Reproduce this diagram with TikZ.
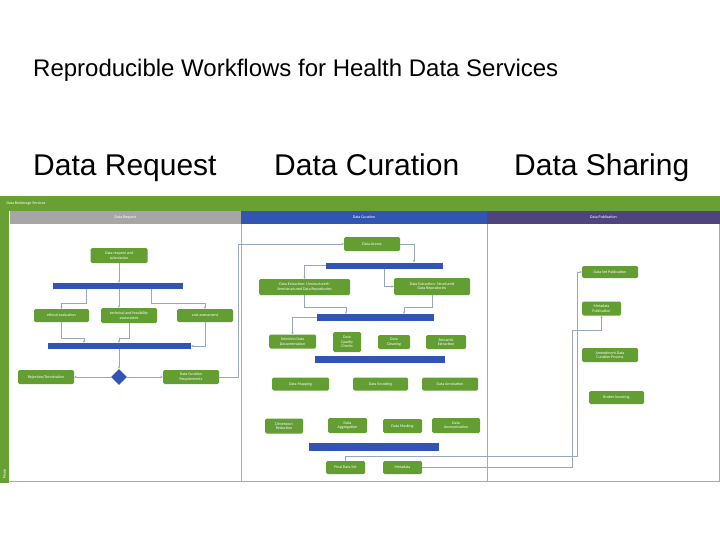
\documentclass[tikz,border=0pt]{standalone}
\usepackage{fontspec}
\setmainfont{Liberation Sans}
\newfontfamily\boxfont{Carlito}
\usetikzlibrary{shapes.geometric,arrows.meta,calc}
\definecolor{bgreen}{RGB}{98,158,50}
\definecolor{tgreen}{RGB}{104,160,52}
\definecolor{hblue}{RGB}{50,84,178}
\definecolor{hgray}{RGB}{166,166,166}
\definecolor{hpurple}{RGB}{80,68,126}
\definecolor{conncol}{RGB}{150,166,192}
\definecolor{framecol}{RGB}{170,170,170}
\tikzset{
  wbox/.style={fill=bgreen, rounded corners=1.5pt, text=white,
    font=\boxfont\fontsize{4}{4.5}\selectfont, align=center, inner sep=0.5pt},
  bar/.style={fill=hblue, inner sep=0pt},
  conn/.style={draw=conncol, line width=0.55pt, -{Stealth[length=2.4pt,width=2.2pt]}},
  lanehead/.style={text=white, font=\boxfont\fontsize{4}{4.5}\selectfont},
  bigtitle/.style={font=\fontsize{24}{28}\selectfont, anchor=base west, inner sep=0pt},
  colhead/.style={font=\fontsize{30}{34}\selectfont, anchor=base west, inner sep=0pt}
}
\begin{document}
\begin{tikzpicture}[x=1pt,y=-1pt]
\useasboundingbox (0,0) rectangle (720,540);
\fill[white] (0,0) rectangle (720,540);

% titles
\node[bigtitle] (title) at (33,77) {Reproducible Workflows for Health Data Services};
\node[colhead] (h1) at (33,176) {Data Request};
\node[colhead] (h2) at (274,176) {Data Curation};
\node[colhead] (h3) at (514,176) {Data Sharing};

% frame
\draw[framecol, line width=0.8pt] (0,196) rectangle (719.5,481.5);
\draw[framecol, line width=0.6pt] (241,224) -- (241,481.5);
\draw[framecol, line width=0.6pt] (487,224) -- (487,481.5);
\fill[tgreen] (0,196) rectangle (720,211);
\fill[tgreen] (0,211) rectangle (9,483);
\fill[hgray] (10,211) rectangle (241,224);
\fill[hblue] (241,211) rectangle (487,224);
\fill[hpurple] (487,211) rectangle (720,224);
\node[lanehead, anchor=west] (svc) at (3,203.5) {Data Brokerage Services};
\node[lanehead] (l1) at (125.5,217.5) {Data Request};
\node[lanehead] (l2) at (364,217.5) {Data Curation};
\node[lanehead] (l3) at (603.5,217.5) {Data Publication};
\node[lanehead, rotate=90] (ph) at (4.5,474) {Phase};

% ---- Data Request lane
\node[wbox, minimum width=57, minimum height=15] (req) at (119,255.5) {Data request and\\submission};
\node[bar, minimum width=130, minimum height=6] (bar1) at (118,286) {};
\node[wbox, minimum width=55, minimum height=13] (eth) at (61.5,315.5) {ethical evaluation};
\node[wbox, minimum width=56, minimum height=15] (tech) at (129,315.5) {technical and feasibility\\assessment};
\node[wbox, minimum width=56, minimum height=13] (cost) at (205,315.5) {cost assessment};
\node[bar, minimum width=143, minimum height=6] (bar2) at (119.5,346) {};
\node[diamond, fill=hblue, minimum width=16, minimum height=16, inner sep=0pt] (dec) at (119,377) {};
\node[wbox, minimum width=56, minimum height=14] (rej) at (46,377) {Rejection/Termination};
\node[wbox, minimum width=56, minimum height=14] (dcr) at (191,377) {Data Curation\\Requirements};

\coordinate (e1) at (86,303);
\coordinate (m1) at (119,0);
\coordinate (e2) at (151,303);
\coordinate (e3) at (84,338);
\coordinate (e4) at (119,338);
\coordinate (e5) at (238,0);

\draw[conn] (req.south) -- (req.south |- bar1.north);
\draw[conn] (bar1.south -| e1) -- (e1) -| (eth.north);
\draw[conn] (bar1.south -| m1) -- (tech.north -| m1);
\draw[conn] (bar1.south -| e2) -- (e2) -| (cost.north);
\draw[conn] (eth.south) |- (e3) -- (e3 |- bar2.north);
\draw[conn] (tech.south) |- (e4) -- (e4 |- bar2.north);
\draw[conn] (cost.south) |- (bar2.east);
\draw[conn] (bar2.south -| dec.north) -- (dec.north);
\draw[conn] (dec.west) -- (rej.east);
\draw[conn] (dec.east) -- (dcr.west);

% ---- Data Curation lane
\node[wbox, minimum width=56, minimum height=14] (acc) at (372,244) {Data Access};
\node[bar, minimum width=117, minimum height=6] (bar3) at (384.5,265.5) {};
\node[wbox, minimum width=91, minimum height=16] (ext1) at (304.5,287) {Data Extraction: Unstructured/\\Semistructured Data Repositories};
\node[wbox, minimum width=76, minimum height=17] (ext2) at (432,286.5) {Data Extraction: Structured\\Data Repositories};
\node[bar, minimum width=117, minimum height=7] (bar4) at (375.5,317.5) {};
\node[wbox, minimum width=47, minimum height=14] (sel) at (292.5,341.5) {Selection Data\\Documentation};
\node[wbox, minimum width=28, minimum height=20] (qual) at (347,342) {Data\\Quality\\Checks};
\node[wbox, minimum width=32, minimum height=14] (clean) at (394,342) {Data\\Cleaning};
\node[wbox, minimum width=40, minimum height=14] (sem) at (446,342) {Semantic\\Extraction};
\node[bar, minimum width=130, minimum height=7] (bar5) at (380,359.5) {};
\node[wbox, minimum width=57, minimum height=13] (map) at (300.5,384) {Data Mapping};
\node[wbox, minimum width=55, minimum height=13] (enc) at (380.5,384) {Data Encoding};
\node[wbox, minimum width=56, minimum height=13] (ann) at (450,384) {Data Annotation};
\node[wbox, minimum width=38, minimum height=15] (dim) at (284,426) {Dimension\\Reduction};
\node[wbox, minimum width=39, minimum height=15] (agg) at (347.5,425.5) {Data\\Aggregation};
\node[wbox, minimum width=39, minimum height=14] (mask) at (402.5,426) {Data Masking};
\node[wbox, minimum width=48, minimum height=15] (anon) at (456,425.5) {Data\\Anonymization};
\node[bar, minimum width=130, minimum height=8] (bar6) at (374,447) {};
\node[wbox, minimum width=39, minimum height=13] (fin) at (345.5,467.5) {Final Data Set};
\node[wbox, minimum width=39, minimum height=13] (meta) at (402.5,467.5) {Metadata};

% ---- Data Publication lane
\node[wbox, minimum width=56, minimum height=12] (dsp) at (610,272) {Data Set Publication};
\node[wbox, minimum width=39, minimum height=14] (mp) at (601.5,308.5) {Metadata\\Publication};
\node[wbox, minimum width=56, minimum height=14] (amd) at (610,355) {Amendment Data\\Curation Process};
\node[wbox, minimum width=55, minimum height=13] (inv) at (616.5,397.5) {Broker Invoicing};

\coordinate (e6) at (414,0);
\coordinate (e7) at (384,0);
\coordinate (e8) at (346,307);
\coordinate (e9) at (404,307);
\coordinate (e10) at (577,456);
\coordinate (e11) at (572,330);

\draw[conn] (dcr.east) -| (e5 |- acc.west) -- (acc.west);
\draw[conn] (acc.east) -| (e6 |- bar3.north);
\draw[conn] (bar3.west) -| (ext1.north);
\draw[conn] (bar3.south -| e7) |- (ext2.west);
\draw[conn] (ext1.south) |- (e8) -- (e8 |- bar4.north);
\draw[conn] (ext2.south) |- (e9) -- (e9 |- bar4.north);
\draw[conn] (bar4.west) -| (sel.north);
\draw[conn] (fin.north) |- (e10) -- (e10 |- dsp.west) -- (dsp.west);
\draw[conn] (meta.east) -| (e11) -| (mp.south);
\end{tikzpicture}
\end{document}
